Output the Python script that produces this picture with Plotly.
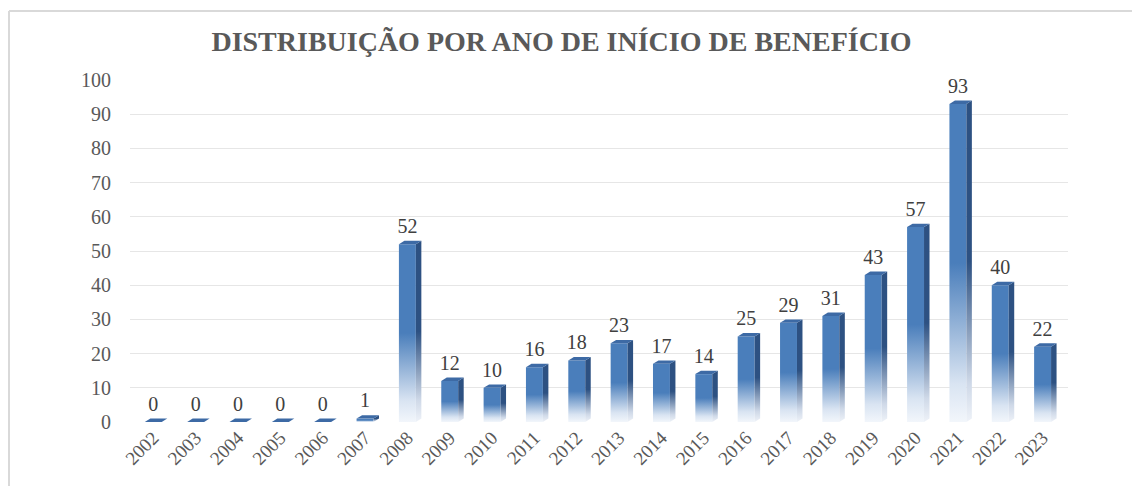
import plotly.graph_objects as go

# Número de benefícios por ano de início
anos = ["2002", "2003", "2004", "2005", "2006", "2007", "2008", "2009", "2010", "2011", "2012",
        "2013", "2014", "2015", "2016", "2017", "2018", "2019", "2020", "2021", "2022", "2023"]
valores = [0, 0, 0, 0, 0, 1, 52, 12, 10, 16, 18, 23, 17, 14, 25, 29, 31, 43, 57, 93, 40, 22]

titulo = "DISTRIBUIÇÃO POR ANO DE INÍCIO DE BENEFÍCIO"
y_ticks = list(range(0, 101, 10))

# Geometria das colunas "3D" (em unidades dos eixos)
LARG = 0.40      # largura da face frontal
DX = 0.13        # profundidade horizontal
DY = 1.0         # profundidade vertical

FRENTE = "#4a7ebb"
LATERAL = "#2d5182"
TOPO = "#3d6aa5"
CLARO = "#f2f6fb"

SERIF = "Liberation Serif"

fig = go.Figure()

for i, v in enumerate(valores):
    x0, x1 = i - LARG / 2, i + LARG / 2
    stop = v if v > 0 else 1e-6
    # face frontal com degradê para o branco na base
    fig.add_trace(go.Scatter(
        x=[x0, x1, x1, x0, x0], y=[0, 0, v, v, 0],
        mode="lines", line=dict(width=0), fill="toself",
        fillgradient=dict(type="vertical", start=0, stop=stop,
                          colorscale=[[0, CLARO], [0.12, "#d9e4f2"], [0.5, FRENTE], [1, FRENTE]]),
        hoverinfo="skip", showlegend=False,
    ))
    # face lateral, mais escura
    fig.add_trace(go.Scatter(
        x=[x1, x1 + DX, x1 + DX, x1, x1], y=[0, DY, v + DY, v, 0],
        mode="lines", line=dict(width=0), fill="toself",
        fillgradient=dict(type="vertical", start=0, stop=stop + DY,
                          colorscale=[[0, "#eef2f8"], [0.12, "#cfd9e8"], [0.5, LATERAL], [1, LATERAL]]),
        hoverinfo="skip", showlegend=False,
    ))
    # topo da coluna
    fig.add_trace(go.Scatter(
        x=[x0, x0 + DX, x1 + DX, x1, x0], y=[v, v + DY, v + DY, v, v],
        mode="lines", line=dict(width=0), fill="toself", fillcolor=TOPO,
        hoverinfo="skip", showlegend=False,
    ))

# rótulos de valor acima das colunas
fig.add_trace(go.Scatter(
    x=list(range(len(anos))), y=[v + DY + 0.8 for v in valores],
    mode="text", text=[str(v) for v in valores], textposition="top center",
    textfont=dict(family=SERIF, size=20, color="#404040"),
    hoverinfo="skip", showlegend=False, cliponaxis=False,
))

# moldura do gráfico
fig.add_shape(type="line", xref="paper", yref="paper", x0=-0.129, x1=1.07, y0=1.2018, y1=1.2018,
              line=dict(color="#d9d9d9", width=2))
fig.add_shape(type="line", xref="paper", yref="paper", x0=-0.129, x1=-0.129, y0=1.2018, y1=-0.2,
              line=dict(color="#d9d9d9", width=2))

fig.update_layout(
    width=1132, height=486,
    margin=dict(l=130, r=64, t=80, b=64),
    paper_bgcolor="white", plot_bgcolor="white",
    title=dict(text=f"<b>{titulo}</b>", x=0.496, xanchor="center", y=0.915, yanchor="middle",
               font=dict(family=SERIF, size=28, color="#595959")),
    xaxis=dict(range=[-0.55, 21.6], tickmode="array", tickvals=list(range(len(anos))), ticktext=anos,
               tickangle=-45, showgrid=False, zeroline=False, showline=False,
               tickfont=dict(family=SERIF, size=19, color="#595959"), ticks=""),
    yaxis=dict(range=[0, 100], tickmode="array", tickvals=y_ticks, showgrid=True,
               gridcolor="#e6e6e6", gridwidth=1, zeroline=False, showline=False,
               tickfont=dict(family=SERIF, size=20, color="#595959"), ticks="", ticklabelstandoff=18),
)

fig.write_html("out.html")
